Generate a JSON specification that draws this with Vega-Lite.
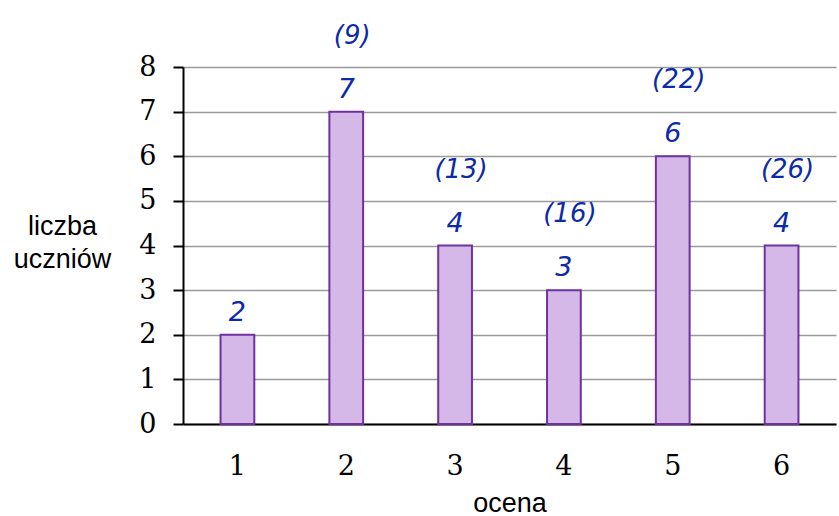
{
  "$schema": "https://vega.github.io/schema/vega-lite/v6.json",
  "autosize": "none",
  "padding": {"left": 183, "top": 67, "right": 3, "bottom": 92},
  "width": 653,
  "height": 357,
  "background": "white",
  "data": {
    "values": [
      {"ocena": "1", "liczba": 2, "kumulacja": null},
      {"ocena": "2", "liczba": 7, "kumulacja": "(9)"},
      {"ocena": "3", "liczba": 4, "kumulacja": "(13)"},
      {"ocena": "4", "liczba": 3, "kumulacja": "(16)"},
      {"ocena": "5", "liczba": 6, "kumulacja": "(22)"},
      {"ocena": "6", "liczba": 4, "kumulacja": "(26)"}
    ]
  },
  "config": {"view": {"stroke": null}},
  "encoding": {
    "x": {
      "field": "ocena",
      "type": "ordinal",
      "scale": {"paddingInner": 0.69, "paddingOuter": 0.345},
      "axis": {
        "title": "ocena",
        "titleFont": "Liberation Sans",
        "titleFontSize": 27,
        "titleFontWeight": "normal",
        "titleColor": "black",
        "titlePadding": 11,
        "labelAngle": 0,
        "labelFont": "DejaVu Serif",
        "labelFontSize": 27,
        "labelColor": "black",
        "labelPadding": 29,
        "ticks": false,
        "domainColor": "black",
        "domainWidth": 2
      }
    },
    "y": {
      "field": "liczba",
      "type": "quantitative",
      "scale": {"domain": [0, 8], "nice": false},
      "axis": {
        "title": ["liczba", "uczniów"],
        "titleAngle": 0,
        "titleAlign": "center",
        "titleBaseline": "top",
        "titleX": -121,
        "titleY": 146,
        "titleFont": "Liberation Sans",
        "titleFontSize": 27,
        "titleFontWeight": "normal",
        "titleColor": "black",
        "titleLineHeight": 33,
        "values": [0, 1, 2, 3, 4, 5, 6, 7, 8],
        "labelOverlap": false,
        "labelFont": "DejaVu Serif",
        "labelFontSize": 27,
        "labelColor": "black",
        "labelPadding": 17,
        "tickSize": 10,
        "tickColor": "black",
        "tickWidth": 2,
        "domainColor": "black",
        "domainWidth": 2,
        "grid": true,
        "gridColor": "#9a9a9a",
        "gridWidth": 1.5
      }
    }
  },
  "layer": [
    {
      "mark": {"type": "bar", "fill": "#d5b8e8", "stroke": "#7030a0", "strokeWidth": 2}
    },
    {
      "mark": {"type": "text", "dy": -22, "font": "DejaVu Sans", "fontStyle": "italic", "fontSize": 27, "color": "#0c2aa8"},
      "encoding": {"text": {"field": "liczba", "type": "quantitative"}}
    },
    {
      "transform": [{"filter": "datum.kumulacja != null"}],
      "mark": {"type": "text", "dy": -76, "dx": 6, "font": "DejaVu Sans", "fontStyle": "italic", "fontSize": 26, "color": "#0c2aa8"},
      "encoding": {"text": {"field": "kumulacja", "type": "nominal"}}
    }
  ]
}
